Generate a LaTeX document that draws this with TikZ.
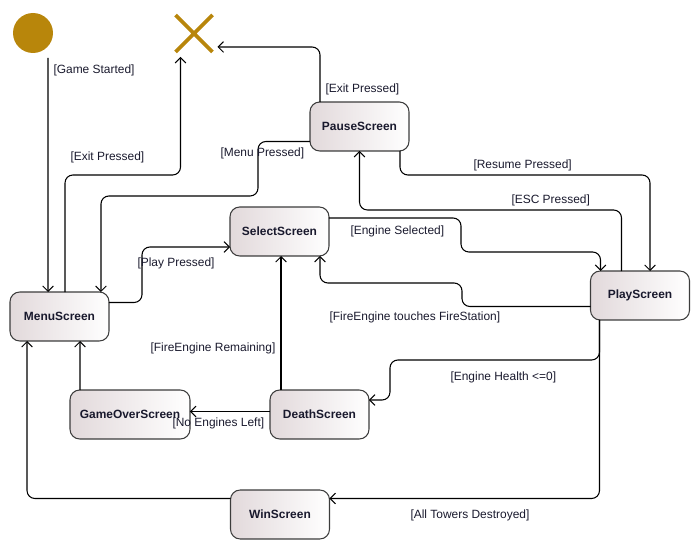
\documentclass[tikz,border=0pt]{standalone}
\usepackage{fontspec}
\setmainfont{Liberation Sans}
\usetikzlibrary{arrows.meta, positioning, calc, shapes.misc}

\definecolor{goldstate}{RGB}{184,134,11}
\definecolor{stateshade}{RGB}{226,217,219}
\definecolor{stateline}{RGB}{60,60,60}
\definecolor{guardtext}{RGB}{25,25,45}

\begin{document}
\begin{tikzpicture}[
    x=0.02cm, y=-0.02cm,
    font=\fontsize{6.8}{8}\selectfont,
    screen/.style={rectangle, rounded corners=5.5pt, minimum width=1.98cm, minimum height=0.98cm, inner sep=0pt, outer sep=0pt, draw=stateline, line width=0.6pt, left color=stateshade, right color=white, text=guardtext, font=\fontsize{6.8}{8}\selectfont\bfseries},
    initial/.style={circle, fill=goldstate, minimum size=0.8cm, inner sep=0pt, outer sep=0pt},
    final/.style={cross out, draw=goldstate, line width=2.2pt, minimum size=0.74cm, inner sep=0pt, outer sep=0pt},
    arrow/.style={-{Straight Barb[length=3pt, width=6pt]}, line width=0.6pt, rounded corners=4.5pt},
    guard/.style={anchor=west, inner sep=0pt, text=guardtext}
]
\useasboundingbox (0,0) rectangle (700,550);

% --- States ---
\node (start) [initial] at (33,33) {};
\node (stop) [final] at (194,33.5) {};

\node (pause) [screen] at (359.5,126.5) {PauseScreen};
\node (select) [screen] at (279.5,231.5) {SelectScreen};
\node (menu) [screen] at (59.5,316.5) {MenuScreen};
\node (play) [screen] at (640,295.5) {PlayScreen};
\node (gameover) [screen, minimum width=2.4cm] at (130,414.5) {GameOverScreen};
\node (death) [screen] at (319.5,414.5) {DeathScreen};
\node (win) [screen] at (280,514.5) {WinScreen};

% --- Transitions ---

% start / exit
\draw [arrow] ($(start.south)+(15,5)$) -- ($(menu.north west)+(38,0)$)
    node (g_started) [guard] at (53,70) {[Game Started]};
\draw [arrow] ($(menu.north west)+(55,0)$) -- ++(0,-117) -| ($(stop.south west)+(5,5)$)
    node (g_menuexit) [guard] at (70,157) {[Exit Pressed]};
\draw [arrow] ($(pause.north west)+(10,0)$) |- ($(stop.east)+(5,13.5)$)
    node (g_pauseexit) [guard] at (325,89) {[Exit Pressed]};

% pause <-> menu / play
\draw [arrow] ($(pause.west)+(0,15)$) -| (258,196) -| ($(menu.north east)+(-8,0)$)
    node (g_menu) [guard] at (220,153) {[Menu Pressed]};
\draw [arrow] ($(pause.south east)+(-9,0)$) |- ($(play.north)+(10,-96)$) -- ($(play.north)+(10,0)$)
    node (g_resume) [guard] at (473,165) {[Resume Pressed]};
\draw [arrow] ($(play.north west)+(31,0)$) |- ($(pause.south)+(0,59)$) -- (pause.south)
    node (g_esc) [guard] at (511,200) {[ESC Pressed]};

% menu -> select -> play
\draw [arrow] ($(menu.east)+(0,-14)$) -| (142,247) -- ($(select.west)+(0,15.5)$)
    node (g_play) [guard] at (137,263) {[Play Pressed]};
\draw [arrow] ($(select.east)+(0,-13.5)$) -| (461,252) -| ($(play.north west)+(10,0)$)
    node (g_selected) [guard] at (350,231) {[Engine Selected]};
\draw [arrow] ($(play.west)+(0,11)$) -| (462,283) -| ($(select.south east)+(-9,0)$)
    node (g_station) [guard] at (329,317) {[FireEngine touches FireStation]};

% death / game over
\draw [arrow] ($(death.north west)+(11,0)$) -- ($(select.south west)+(51,0)$)
    node (g_remaining) [guard] at (150,348) {[FireEngine Remaining]};
\draw [arrow] ($(play.south west)+(9,0)$) |- ($(death.east)+(21,-54.5)$) |- ($(death.east)+(0,-14.5)$)
    node (g_health) [guard] at (450,377) {[Engine Health <=0]};
\draw [arrow] ($(death.west)+(0,-3)$) -- ($(gameover.east)+(0,-3)$)
    node (g_noengines) [guard] at (172,423) {[No Engines Left]};
\draw [arrow] ($(gameover.north west)+(10,0)$) -- ($(menu.south west)+(70,0)$);

% win
\draw [arrow] ($(play.south west)+(9,0)$) |- ($(win.east)+(0,-16)$)
    node (g_towers) [guard] at (410,515) {[All Towers Destroyed]};
\draw [arrow] ($(win.west)+(0,-16)$) -| ($(menu.south west)+(17,0)$);

\end{tikzpicture}
\end{document}
